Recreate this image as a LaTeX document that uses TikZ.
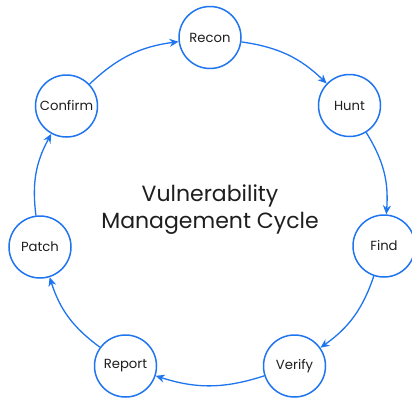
\documentclass[tikz,border=0pt]{standalone}
\usepackage{fontspec}
\setmainfont{Poppins}
\usetikzlibrary{arrows.meta}
\definecolor{cycleblue}{HTML}{1F75F0}
\definecolor{inktext}{HTML}{1E1E1E}
\begin{document}
\begin{tikzpicture}[x=1pt,y=-1pt,
  stage/.style={circle, draw=cycleblue, line width=1.5pt, fill=white,
    minimum size=62pt, inner sep=0pt, text=inktext,
    font=\fontsize{13.2}{15}\selectfont},
  flow/.style={draw=cycleblue, line width=1.3pt,
    -{Stealth[length=9pt,width=8pt]}, bend left=18},
  title/.style={align=center, text=inktext,
    font=\fontsize{22}{27}\selectfont}]
  \useasboundingbox (0,0) rectangle (412,400);
  \fill[white] (0,0) rectangle (412,400);

  \node[stage] (recon)   at (210,37.5)  {Recon};
  \node[stage] (hunt)    at (349.5,105.5) {Hunt};
  \node[stage] (find)    at (384,246)   {Find};
  \node[stage] (verify)  at (294.5,366) {Verify};
  \node[stage] (report)  at (125.5,366) {Report};
  \node[stage] (patch)   at (40,247)    {Patch};
  \node[stage] (confirm) at (66.5,106)  {Confirm};

  \node[title] (centre) at (210,210) {Vulnerability\\Management Cycle};

  \draw[flow] (recon)   to (hunt);
  \draw[flow] (hunt)    to (find);
  \draw[flow] (find)    to (verify);
  \draw[flow] (verify)  to (report);
  \draw[flow] (report)  to (patch);
  \draw[flow] (patch)   to (confirm);
  \draw[flow] (confirm) to (recon);
\end{tikzpicture}
\end{document}
